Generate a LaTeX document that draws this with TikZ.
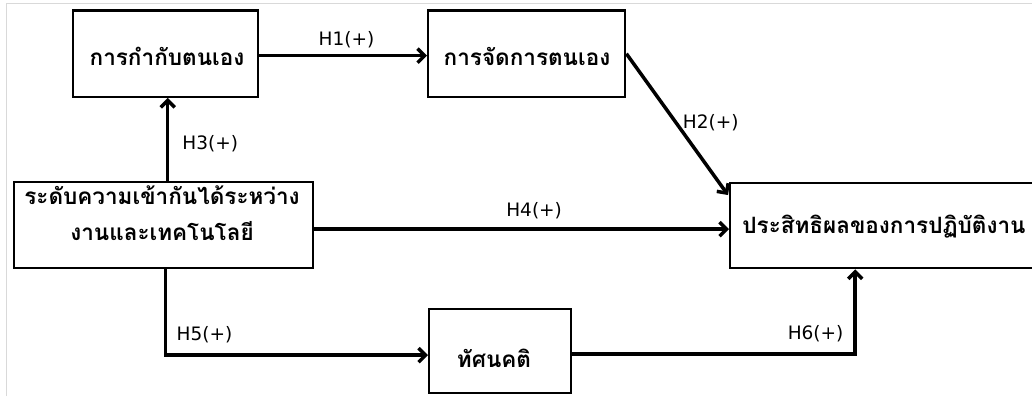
\documentclass[tikz,border=0pt]{standalone}
\usepackage{fontspec}
\usetikzlibrary{arrows.meta,calc}
\newfontfamily\thaifont[Script=Thai]{Loma}
\newfontfamily\labfont{DejaVu Sans}
\begin{document}
\begin{tikzpicture}[x=1pt,y=-1pt,
  box/.style={draw=black, line width=2.4pt, inner sep=0pt, anchor=north west, rectangle},
  thai/.style={font=\thaifont\bfseries\fontsize{22.5}{26}\selectfont, inner sep=0pt, anchor=base},
  lab/.style={font=\labfont\fontsize{18.5}{22}\selectfont, inner sep=0pt},
  arr/.style={line width=3.5pt, -{Straight Barb[length=7pt,width=14pt]}},
  frame/.style={draw=black!15, line width=1pt}]
\useasboundingbox (0,0) rectangle (1032,396);
\clip (0,0) rectangle (1032,396);
\fill[white] (0,0) rectangle (1032,396);
\draw[frame] (6,396) -- (6,4) -- (1032,4);
% boxes
\node[box, minimum width=185pt, minimum height=86pt] (A) at (72,9.5) {};
\node[box, minimum width=197pt, minimum height=86pt] (B) at (427,9.5) {};
\node[box, minimum width=299pt, minimum height=86pt] (C) at (13,181) {};
\node[box, minimum width=142pt, minimum height=84pt] (D) at (428,308) {};
\node[box, minimum width=320pt, minimum height=85pt] (E) at (729,182) {};
% texts
\node[thai] (At) at (167,65) {การกำกับตนเอง};
\node[thai] (Bt) at (527,65) {การจัดการตนเอง};
\node[thai] (Ct1) at (162,204) {ระดับความเข้ากันได้ระหว่าง};
\node[thai] (Ct2) at (162,240) {งานและเทคโนโลยี};
\node[thai] (Dt) at (494,367) {ทัศนคติ};
\node[thai] (Et) at (884,233) {ประสิทธิผลของการปฏิบัติงาน};
% connectors
\draw[arr] ([yshift=-2pt]A.east) -- ([yshift=-2pt]A.east -| B.west) node[pos=0.52, lab, above=6pt] (L1) {H1(+)};
\draw[arr] (B.east) -- ([xshift=-1pt,yshift=-13pt]E.north west) node[pos=0.49, lab, anchor=west, xshift=5pt] (L2) {H2(+)};
\draw[arr] ([xshift=4pt]C.north) -- ([xshift=4pt]C.north |- A.south) node[midway, lab, right=13pt, yshift=-4pt] (L3) {H3(+)};
\draw[arr] ([yshift=-4pt]C.east) -- ([yshift=-4pt]C.east -| E.west) node[pos=0.53, lab, above=9pt] (L4) {H4(+)};
\draw[arr] ([xshift=2pt]C.south) |- ([yshift=-4pt]D.west) node[pos=0.574, lab, above=11pt] (L5) {H5(+)};
\coordinate (E6) at ([xshift=-35pt]E.south);
\draw[arr] ([yshift=-3pt]D.east) -| (E6) node[pos=0.43, lab, above=11pt] (L6) {H6(+)};
\end{tikzpicture}
\end{document}
